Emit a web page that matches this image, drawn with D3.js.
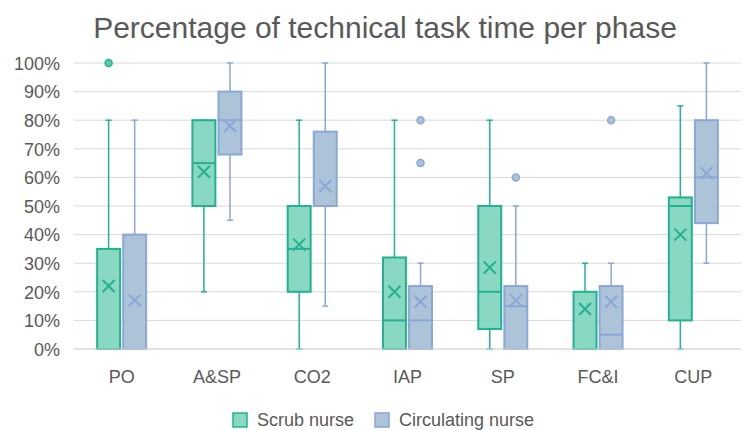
<!DOCTYPE html>
<html>
<head>
<meta charset="utf-8">
<script src="https://cdn.jsdelivr.net/npm/d3@7"></script>
<style>
  html, body { margin: 0; padding: 0; background: #fff; }
  svg { display: block; font-family: "Liberation Sans", Arial, sans-serif; }
</style>
</head>
<body>
<svg id="chart" width="743" height="430"></svg>
<script>
// Phases and series
const categories = ['PO', 'A&SP', 'CO2', 'IAP', 'SP', 'FC&I', 'CUP'];
const seriesNames = ['Scrub nurse', 'Circulating nurse'];
const yTicks = [0, 10, 20, 30, 40, 50, 60, 70, 80, 90, 100];

// Scrub nurse box stats (%), one entry per phase
const scrubMin    = [0, 20, 0, 0, 0, 0, 0];
const scrubQ1     = [0, 50, 20, 0, 7, 0, 10];
const scrubMedian = [0, 65, 35, 10, 20, 0, 50];
const scrubQ3     = [35, 80, 50, 32, 50, 20, 53];
const scrubMax    = [80, 80, 80, 80, 80, 30, 85];
const scrubMean   = [22, 62, 36.5, 20, 28.5, 14, 40];
const scrubOutliers = [[100], [], [], [], [], [], []];

// Circulating nurse box stats (%)
const circMin    = [0, 45, 15, 0, 0, 0, 30];
const circQ1     = [0, 68, 50, 0, 0, 0, 44];
const circMedian = [0, 80, 50, 10, 15, 5, 60];
const circQ3     = [40, 90, 76, 22, 22, 22, 80];
const circMax    = [80, 100, 100, 30, 50, 30, 100];
const circMean   = [17, 78, 57, 16.5, 17, 16.5, 61.5];
const circOutliers = [[], [], [], [80, 65], [60], [80], []];

const colors = {
  'Scrub nurse': { fill: '#88d8c4', stroke: '#22b291' },
  'Circulating nurse': { fill: '#adc3d8', stroke: '#8aa7d8' }
};

const svg = d3.select('#chart');
const margin = { top: 63, right: 2, bottom: 81, left: 74 };
const width = 743 - margin.left - margin.right;
const height = 430 - margin.top - margin.bottom;

// Title
svg.append('text')
  .attr('x', 385)
  .attr('y', 38)
  .attr('text-anchor', 'middle')
  .style('font-size', '30px')
  .style('fill', '#595959')
  .text('Percentage of technical task time per phase');

const g = svg.append('g').attr('transform', `translate(${margin.left},${margin.top})`);

const x0 = d3.scaleBand().domain(categories).range([0, width]).padding(0);
const x1 = d3.scaleBand().domain(seriesNames)
  .range([x0.bandwidth() / 2 - 24.5, x0.bandwidth() / 2 + 24.5])
  .paddingInner(0.12);
const y = d3.scaleLinear().domain([0, 100]).range([height, 0]);

// Gridlines
g.selectAll('.grid').data(yTicks).enter().append('line')
  .attr('x1', 0).attr('x2', width)
  .attr('y1', d => y(d)).attr('y2', d => y(d))
  .style('stroke', '#d9d9d9').style('stroke-width', 1);

// Y axis labels
const yAxis = d3.axisLeft(y).tickValues(yTicks).tickFormat(d => d + '%').tickSize(0).tickPadding(14);
g.append('g').call(yAxis)
  .call(s => s.select('.domain').remove())
  .selectAll('text')
  .style('font-size', '18px')
  .style('fill', '#595959')
  .attr('dy', '0.35em');

// X axis labels
const xAxis = d3.axisBottom(x0).tickSize(0).tickPadding(21);
g.append('g').attr('transform', `translate(0,${height})`).call(xAxis)
  .call(s => s.select('.domain').remove())
  .selectAll('text')
  .style('font-size', '18px')
  .style('fill', '#595959');

// Build per-series records
const series = [
  { name: 'Scrub nurse', min: scrubMin, q1: scrubQ1, med: scrubMedian, q3: scrubQ3, max: scrubMax, mean: scrubMean, out: scrubOutliers },
  { name: 'Circulating nurse', min: circMin, q1: circQ1, med: circMedian, q3: circQ3, max: circMax, mean: circMean, out: circOutliers }
];

series.forEach(s => {
  const c = colors[s.name];
  categories.forEach((cat, i) => {
    const bx = x0(cat) + x1(s.name);
    const bw = x1.bandwidth();
    const cx = bx + bw / 2;
    const grp = g.append('g');

    // whiskers
    grp.append('line')
      .attr('x1', cx).attr('x2', cx)
      .attr('y1', y(s.max[i])).attr('y2', y(s.q3[i]))
      .style('stroke', c.stroke).style('stroke-width', 1.5);
    grp.append('line')
      .attr('x1', cx).attr('x2', cx)
      .attr('y1', y(s.q1[i])).attr('y2', y(s.min[i]))
      .style('stroke', c.stroke).style('stroke-width', 1.5);
    [s.max[i], s.min[i]].forEach(v => {
      grp.append('line')
        .attr('x1', cx - 3).attr('x2', cx + 3)
        .attr('y1', y(v)).attr('y2', y(v))
        .style('stroke', c.stroke).style('stroke-width', 1.5);
    });

    // box
    grp.append('rect')
      .attr('x', bx).attr('width', bw)
      .attr('y', y(s.q3[i]))
      .attr('height', y(s.q1[i]) - y(s.q3[i]))
      .style('fill', c.fill)
      .style('stroke', c.stroke)
      .style('stroke-width', 2);

    // median
    grp.append('line')
      .attr('x1', bx).attr('x2', bx + bw)
      .attr('y1', y(s.med[i])).attr('y2', y(s.med[i]))
      .style('stroke', c.stroke).style('stroke-width', 2);

    // mean marker (x)
    const my = y(s.mean[i]);
    const r = 6;
    grp.append('path')
      .attr('d', `M${cx - r},${my - r}L${cx + r},${my + r}M${cx - r},${my + r}L${cx + r},${my - r}`)
      .style('stroke', c.stroke).style('stroke-width', 2).style('fill', 'none');

    // outliers
    s.out[i].forEach(v => {
      grp.append('circle')
        .attr('cx', cx).attr('cy', y(v)).attr('r', 3.5)
        .style('fill', s.name === 'Scrub nurse' ? '#5cc9ae' : c.fill)
        .style('stroke', c.stroke).style('stroke-width', 1.5);
    });
  });
});

// Bottom axis line
g.append('line')
  .attr('x1', 0).attr('x2', width)
  .attr('y1', height).attr('y2', height)
  .style('stroke', '#d9d9d9').style('stroke-width', 1);

// Legend
const legend = svg.append('g').attr('transform', 'translate(233,420)');
const legendX = [0, 142];
seriesNames.forEach((name, i) => {
  const lg = legend.append('g').attr('transform', `translate(${legendX[i]},0)`);
  lg.append('rect')
    .attr('x', 0).attr('y', -7).attr('width', 14).attr('height', 14)
    .style('fill', colors[name].fill)
    .style('stroke', colors[name].stroke)
    .style('stroke-width', 1.5);
  lg.append('text')
    .attr('x', 24).attr('y', 0).attr('dy', '0.35em')
    .style('font-size', '18px')
    .style('fill', '#595959')
    .text(name);
});
</script>
</body>
</html>
